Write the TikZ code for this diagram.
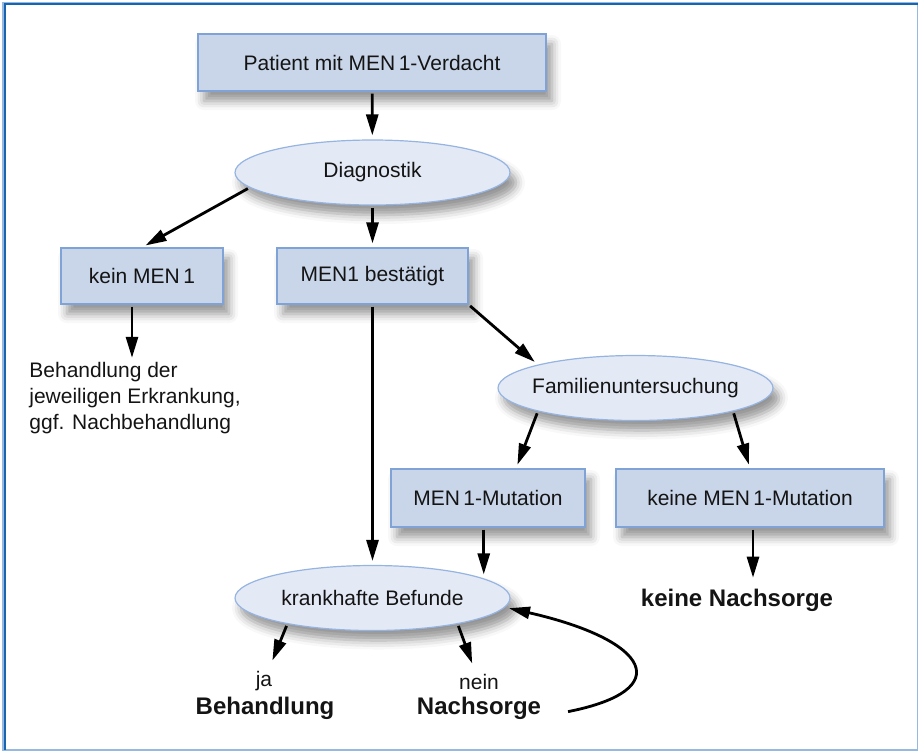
\documentclass[tikz,border=0pt]{standalone}
\usepackage{fontspec}
\setmainfont{Liberation Sans}
\usepackage{xcolor}
\usetikzlibrary{arrows.meta, positioning, shapes.geometric, shadows.blur}

\definecolor{boxfill}{RGB}{201,214,234}
\definecolor{boxline}{RGB}{127,163,214}
\definecolor{ovalfill}{RGB}{227,233,245}
\definecolor{ovalline}{RGB}{150,180,225}
\definecolor{framedark}{RGB}{25,100,175}
\definecolor{framelight}{RGB}{150,185,225}

\begin{document}
\begin{tikzpicture}[x=0.5pt, y=-0.5pt,
  every node/.style={font=\fontsize{10.5}{13}\selectfont, text=black!92},
  softshadow/.style={blur shadow={shadow xshift=3pt, shadow yshift=-5pt, shadow blur radius=4.5pt, shadow opacity=42}},
  stepbox/.style={rectangle, draw=boxline, fill=boxfill, line width=0.6pt, inner sep=0pt, softshadow},
  oval/.style={ellipse, draw=ovalline, fill=ovalfill, line width=0.6pt, inner xsep=-4pt, inner ysep=0pt,
    minimum width=137.5pt, minimum height=32.5pt, softshadow},
  result/.style={font=\fontsize{12}{14}\selectfont\bfseries},
  arr/.style={-{Triangle[length=10.5pt, width=6pt]}, line width=1.4pt, shorten >=2pt, shorten <=1pt}]

  \useasboundingbox (0,0) rectangle (919,751);

  % --- Frame ---
  \draw[framelight, line width=0.8pt] (3,3) rectangle (917.5,750);
  \draw[framedark, line width=1pt] (4.5,750) -- (4.5,4) -- (917.5,4);

  % --- Boxes and ovals ---
  \node[stepbox, minimum width=174pt, minimum height=28.5pt] (pat) at (372,62.5) {Patient mit MEN\,1-Verdacht};
  \node[oval] (diag) at (372.5,172.5) {Diagnostik};
  \node[stepbox, minimum width=81pt, minimum height=28pt] (kein) at (142,276) {kein MEN\,1};
  \node[stepbox, minimum width=95.5pt, minimum height=28pt] (best) at (372.5,276) {MEN1 bestätigt};
  \node[oval] (fam) at (635.5,388) {Familienuntersuchung};
  \node[stepbox, minimum width=97pt, minimum height=29pt] (mut) at (488,498) {MEN\,1-Mutation};
  \node[stepbox, minimum width=134pt, minimum height=29pt] (keinmut) at (750,498) {keine MEN\,1-Mutation};
  \node[oval] (krank) at (372.5,598) {krankhafte Befunde};

  % --- Plain texts ---
  \node[anchor=west, align=left, inner sep=0pt] (beh) at (29,398)
    {Behandlung der\\jeweiligen Erkrankung,\\ggf. Nachbehandlung};
  \node (ja) at (264,681) {ja};
  \node (nein) at (479,682) {nein};
  \node[result] (behandlung) at (265,708) {Behandlung};
  \node[result] (nachsorge) at (479,708) {Nachsorge};
  \node[result] (keinenach) at (737,600) {keine Nachsorge};

  % --- Arrows ---
  \draw[arr] (pat) -- (diag);
  \draw[arr] (diag.187) -- (kein.north);
  \draw[arr] (diag) -- (best);
  \draw[arr] ([xshift=-5pt]kein.south) -- ([xshift=-5pt]kein.south |- beh.north);
  \draw[arr] (best) -- (krank);
  \draw[arr] (best.south east) -- (fam.north west);
  \draw[arr] (fam.south west) -- ([xshift=14pt]mut.north);
  \draw[arr] (fam.south east) -- (keinmut.north);
  \draw[arr] (mut.south -| krank.10) -- (krank.10);
  \draw[arr] ([xshift=1.5pt]keinmut.south) -- ([xshift=1.5pt]keinmut.south |- keinenach.north);
  \draw[arr] (krank.197) -- (ja);
  \draw[arr] (krank.-17) -- (nein);

  % loop back from Nachsorge
  \draw[arr] ([xshift=9pt, yshift=-2pt]nachsorge.east) .. controls +(111,-22) and +(145,33) .. (krank.-4);

\end{tikzpicture}
\end{document}
